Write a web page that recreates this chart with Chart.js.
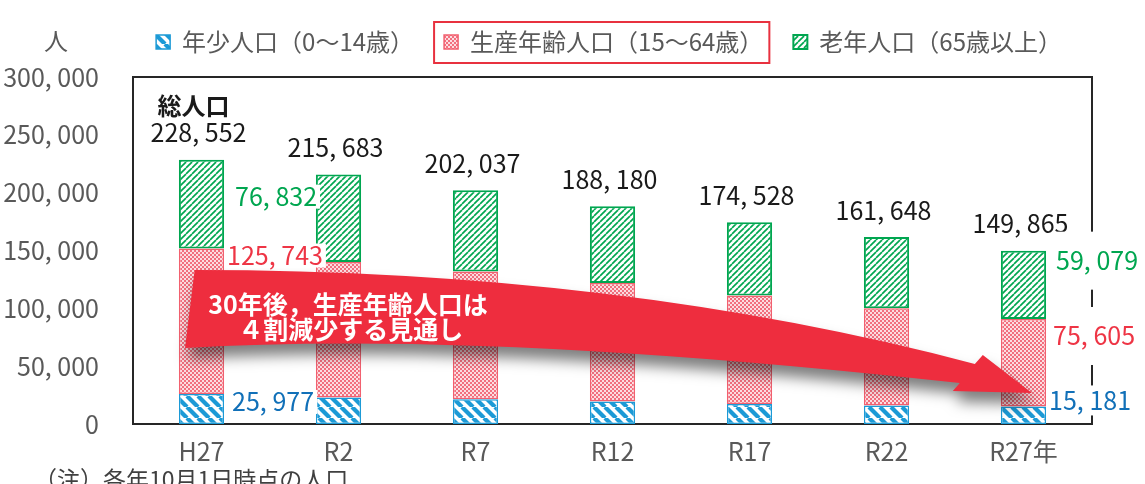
<!DOCTYPE html>
<html lang="ja">
<head>
<meta charset="utf-8">
<title>年齢3区分別人口の推移</title>
<script src="https://cdn.jsdelivr.net/npm/chart.js@4.4.1/dist/chart.umd.min.js"></script>
<style>
  html, body { margin: 0; padding: 0; background: #fff; }
  #wrap { position: relative; width: 1145px; height: 484px; }
</style>
</head>
<body>
<div id="wrap"><canvas id="popCanvas"></canvas></div>
<script>
/* ── data ── */
const years   = ['H27', 'R2', 'R7', 'R12', 'R17', 'R22', 'R27年'];
const young   = [25977, 23000, 21500, 19500, 17200, 15900, 15181];
const working = [125743, 117000, 110400, 102400, 93800, 84200, 75605];
const elderly = [76832, 75683, 70137, 66280, 63528, 61548, 59079];
const totals  = [228552, 215683, 202037, 188180, 174528, 161648, 149865];
const yTicks  = [0, 50000, 100000, 150000, 200000, 250000, 300000];

const seriesNames = ['年少人口（0〜14歳）', '生産年齢人口（15〜64歳）', '老年人口（65歳以上）'];
const totalTitle  = '総人口';
const unitLabel   = '人';
const noteText    = '（注）各年10月1日時点の人口';
const arrowLines  = ['30年後，生産年齢人口は', '４割減少する見通し'];

/* ── look ── */
const FONT   = "'Liberation Sans Narrow', 'Noto Sans CJK JP', sans-serif";
const JP     = "'Noto Sans CJK JP', sans-serif";
const GREY   = '#595959';
const BLUE   = '#1C9AD6';
const PINK   = '#F26F7E';
const GREEN  = '#00A650';
const ARROW  = '#EE2D3E';

const fmt = n => n.toLocaleString('en-US').replace(/,/g, ', ');

function makePattern(size, draw) {
    const tile = document.createElement('canvas');
    tile.width = tile.height = size;
    const g = tile.getContext('2d');
    g.fillStyle = '#fff';
    g.fillRect(0, 0, size, size);
    draw(g, size);
    return document.createElement('canvas').getContext('2d').createPattern(tile, 'repeat');
}

const bluePattern = makePattern(11, (g, s) => {
    g.strokeStyle = BLUE; g.lineWidth = 4.2;
    for (let k = -1; k <= 1; k++) {
        g.beginPath(); g.moveTo(k * s, 0); g.lineTo(k * s + s, s); g.stroke();
    }
});
const pinkPattern = makePattern(4, (g) => {
    g.fillStyle = '#FCDDE1'; g.fillRect(0, 0, 4, 4);
    g.fillStyle = PINK;
    g.fillRect(0, 0, 2, 2); g.fillRect(2, 2, 2, 2);
});
const greenPattern = makePattern(6, (g, s) => {
    g.strokeStyle = GREEN; g.lineWidth = 1.7;
    for (let k = -1; k <= 1; k++) {
        g.beginPath(); g.moveTo(k * s, s); g.lineTo(k * s + s, 0); g.stroke();
    }
});

/* ── plugins ── */

// a bit more room between legend and plot
const legendGap = {
    id: 'legendGap',
    beforeInit(chart) {
        const fit = chart.legend.fit;
        chart.legend.fit = function () { fit.bind(chart.legend)(); this.height += 13; };
    },
};

const frame = {
    id: 'frame',
    beforeDatasetsDraw(chart) {
        const { ctx, chartArea: a } = chart;
        ctx.save();
        ctx.strokeStyle = '#262626';
        ctx.lineWidth = 2;
        ctx.strokeRect(a.left, a.top, a.right - a.left, a.bottom - a.top);
        ctx.restore();
    },
};

// big red arrow, anchored in (category index, value) space
const bigArrow = {
    id: 'bigArrow',
    afterDatasetsDraw(chart) {
        const { ctx } = chart;
        const sx = chart.scales.x, sy = chart.scales.y;
        const p = (i, v) => [sx.getPixelForValue(i), sy.getPixelForValue(v)];
        const A  = p(-0.05, 133100), Ct = p(3.06, 133100), B = p(5.645, 51900);
        const C  = p(5.703, 59700),  D  = p(6.062, 26800), E = p(5.484, 28500);
        const F  = p(5.535, 35400),  Cb = p(2.04, 81300),  G = p(-0.12, 65700);

        ctx.save();
        ctx.beginPath();
        ctx.moveTo(...A);
        ctx.quadraticCurveTo(...Ct, ...B);
        ctx.lineTo(...C);
        ctx.lineTo(...D);
        ctx.lineTo(...E);
        ctx.lineTo(...F);
        ctx.quadraticCurveTo(...Cb, ...G);
        ctx.closePath();
        ctx.shadowColor = 'rgba(0,0,0,0.5)';
        ctx.shadowBlur = 14;
        ctx.shadowOffsetX = 3;
        ctx.shadowOffsetY = 11;
        ctx.fillStyle = ARROW;
        ctx.fill();
        ctx.restore();

        ctx.save();
        ctx.fillStyle = '#fff';
        ctx.font = `bold 25px ${JP}`;
        ctx.textAlign = 'center';
        ctx.textBaseline = 'middle';
        ctx.fillText(arrowLines[0], ...p(1.07, 103700));
        ctx.fillText(arrowLines[1], ...p(1.09, 81300));
        ctx.restore();
    },
};

// hand-placed side labels for first and last year: [year, dataset, dx, dy from segment top, box half-height]
const SIDE = [
    [0, 2, 11, 37, 12], [0, 1, 3, 7, 12], [0, 0, 8, 8, 12],
    [6, 2, 10, 10, 29], [6, 1, 7, 17, 29], [6, 0, 3, -6, 15],
];
const sideColors = ['#1170B8', '#EE3545', GREEN];
const sideData   = [young, working, elderly];

const valueLabels = {
    id: 'valueLabels',
    afterDatasetsDraw(chart) {
        const { ctx } = chart;
        const sx = chart.scales.x, sy = chart.scales.y;
        ctx.save();
        ctx.textBaseline = 'middle';

        ctx.font = `25px ${FONT}`;
        ctx.textAlign = 'center';
        ctx.fillStyle = '#1a1a1a';
        totals.forEach((t, i) => ctx.fillText(fmt(t), sx.getPixelForValue(i) - 3, sy.getPixelForValue(t) - 27));

        ctx.font = `bold 24px ${JP}`;
        ctx.fillText(totalTitle, sx.getPixelForValue(0) - 8, sy.getPixelForValue(totals[0]) - 54);

        ctx.font = `25px ${FONT}`;
        ctx.textAlign = 'left';
        SIDE.forEach(([i, d, dx, dy, hh]) => {
            const bar = chart.getDatasetMeta(d).data[i];
            const top = Math.min(bar.y, bar.base);
            const txt = fmt(sideData[d][i]);
            const x = bar.x + bar.width / 2 + dx;
            const y = top + dy;
            const w = ctx.measureText(txt).width;
            ctx.fillStyle = '#fff';
            ctx.fillRect(x - 3, y - hh, w + 6, hh * 2);
            ctx.fillStyle = sideColors[d];
            ctx.fillText(txt, x, y);
        });
        ctx.restore();
    },
};

const extras = {
    id: 'extras',
    afterDraw(chart) {
        const { ctx } = chart;
        ctx.save();
        // box around the working-age legend item
        const hb = chart.legend.legendHitBoxes[1];
        if (hb) {
            ctx.strokeStyle = '#E8313F';
            ctx.lineWidth = 2;
            ctx.strokeRect(hb.left - 10, hb.top + hb.height / 2 - 20, hb.width + 16, 41);
        }
        ctx.fillStyle = GREY;
        ctx.font = `24px ${JP}`;
        ctx.textAlign = 'center';
        ctx.textBaseline = 'middle';
        ctx.fillText(unitLabel, 56, 41);

        ctx.fillStyle = '#404040';
        ctx.font = `23px ${FONT}`;
        ctx.textAlign = 'left';
        ctx.textBaseline = 'top';
        ctx.fillText(noteText, 34, 468);
        ctx.restore();
    },
};

/* ── chart ── */
const canvas = document.getElementById('popCanvas');
const popChart = new Chart(canvas.getContext('2d'), {
    type: 'bar',
    data: {
        labels: years,
        datasets: [
            { label: seriesNames[0], data: young,   backgroundColor: bluePattern,  borderColor: BLUE,      borderWidth: 1.5 },
            { label: seriesNames[1], data: working, backgroundColor: pinkPattern,  borderColor: '#F2606F', borderWidth: 1.5 },
            { label: seriesNames[2], data: elderly, backgroundColor: greenPattern, borderColor: GREEN,     borderWidth: 2 },
        ].map(ds => ({ ...ds, borderSkipped: false, categoryPercentage: 1, barPercentage: 0.33 })),
    },
    options: {
        responsive: true,
        maintainAspectRatio: false,
        animation: false,
        layout: { padding: { left: 0, right: 53, top: 0, bottom: 0 } },
        scales: {
            x: {
                stacked: true,
                grid: { display: false, drawTicks: false },
                border: { display: false },
                ticks: { color: GREY, padding: 12, font: { family: FONT, size: 25 } },
                afterFit: s => { s.height = 60; },
            },
            y: {
                stacked: true,
                min: 0,
                max: 300000,
                afterBuildTicks: s => { s.ticks = yTicks.map(v => ({ value: v })); },
                grid: { display: false, drawTicks: false },
                border: { display: false },
                ticks: { color: GREY, padding: 34, font: { family: FONT, size: 25 }, callback: v => fmt(v) },
                afterFit: s => { s.width = 133; },
            },
        },
        plugins: {
            legend: {
                position: 'top',
                align: 'end',
                labels: { color: GREY, boxWidth: 14, boxHeight: 14, padding: 30, font: { family: FONT, size: 24 } },
            },
            tooltip: { enabled: false },
        },
    },
    plugins: [legendGap, frame, bigArrow, valueLabels, extras],
});
</script>
</body>
</html>
